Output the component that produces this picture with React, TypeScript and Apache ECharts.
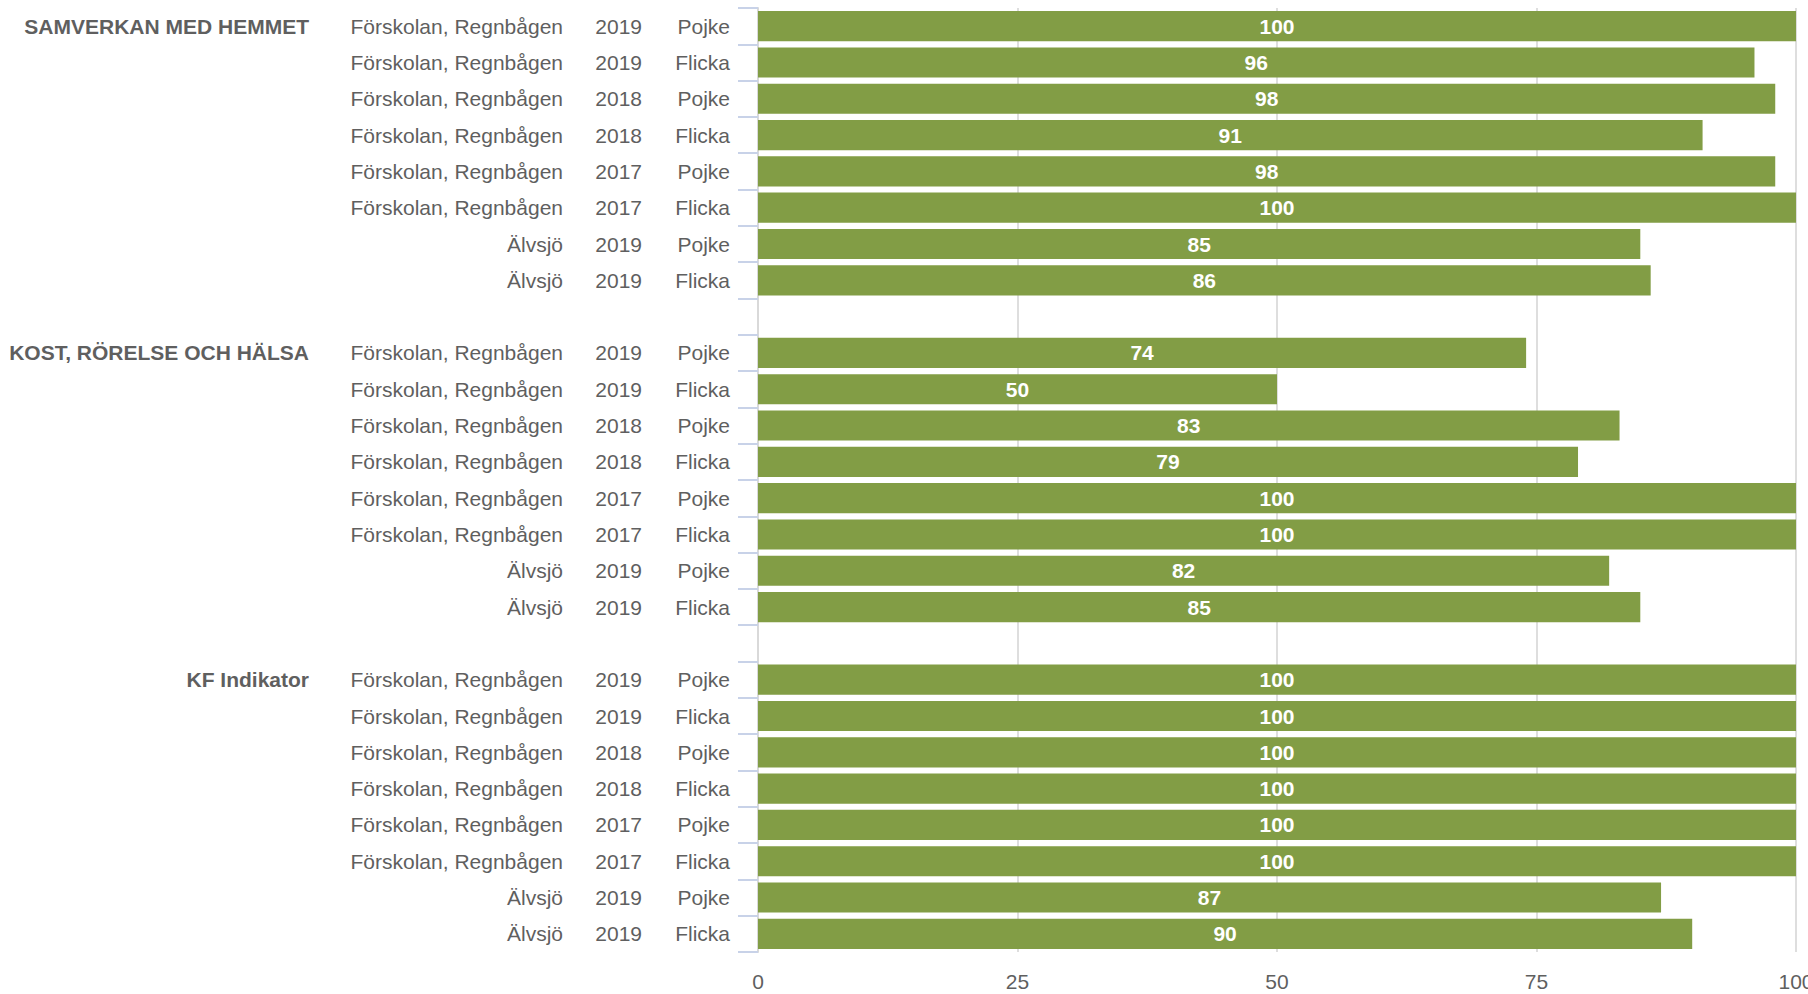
import React, { useEffect, useRef } from "react";
import * as echarts from "echarts";

const groups = ["SAMVERKAN MED HEMMET", "KOST, RÖRELSE OCH HÄLSA", "KF Indikator"];
const units = [
  "Förskolan, Regnbågen",
  "Förskolan, Regnbågen",
  "Förskolan, Regnbågen",
  "Förskolan, Regnbågen",
  "Förskolan, Regnbågen",
  "Förskolan, Regnbågen",
  "Älvsjö",
  "Älvsjö",
];
const years = ["2019", "2019", "2018", "2018", "2017", "2017", "2019", "2019"];
const genders = ["Pojke", "Flicka", "Pojke", "Flicka", "Pojke", "Flicka", "Pojke", "Flicka"];
const samverkanValues = [100, 96, 98, 91, 98, 100, 85, 86];
const kostValues = [74, 50, 83, 79, 100, 100, 82, 85];
const kfValues = [100, 100, 100, 100, 100, 100, 87, 90];
const xTicks = [0, 25, 50, 75, 100];

const groupValues = [samverkanValues, kostValues, kfValues];

type Row = { group: string; unit: string; year: string; gender: string; value: number | null };
const rows: Row[] = [];
groups.forEach((g, gi) => {
  if (gi > 0) rows.push({ group: "", unit: "", year: "", gender: "", value: null });
  units.forEach((u, i) => {
    rows.push({
      group: i === 0 ? g : "",
      unit: u,
      year: years[i],
      gender: genders[i],
      value: groupValues[gi][i],
    });
  });
});
const rowKeys = rows.map((_, i) => "r" + i);

const FONT = "Liberation Sans";
const TEXT = "#5f5f5f";

function labelAxis(field: keyof Row, margin: number, bold = false, main = false) {
  return {
    type: "category",
    position: "left",
    inverse: true,
    data: rowKeys,
    axisLine: main ? { show: true, lineStyle: { color: "#d9d9d9", width: 2 } } : { show: false },
    axisTick: main
      ? { show: true, length: 20, lineStyle: { color: "#c8d2e8", width: 2 } }
      : { show: false },
    splitLine: { show: false },
    axisLabel: {
      show: true,
      interval: 0,
      margin,
      fontSize: 21,
      fontFamily: FONT,
      fontWeight: bold ? "bold" : "normal",
      color: TEXT,
      formatter: (_v: string, idx: number) => String(rows[idx][field] ?? ""),
    },
  };
}

export default function App() {
  const ref = useRef<HTMLDivElement>(null);
  useEffect(() => {
    if (!ref.current) return;
    const chart = echarts.init(ref.current, null, { renderer: "svg" });
    chart.setOption({
      animation: false,
      backgroundColor: "#ffffff",
      grid: { left: 758, right: 12, top: 8, bottom: 42, containLabel: false, outerBoundsMode: "none" },
      xAxis: {
        type: "value",
        min: xTicks[0],
        max: xTicks[xTicks.length - 1],
        interval: 25,
        axisLine: { show: false },
        axisTick: { show: false },
        splitLine: { show: true, lineStyle: { color: "#dedede", width: 2 } },
        axisLabel: { fontSize: 21, fontFamily: FONT, color: TEXT, margin: 19 },
      },
      yAxis: [
        labelAxis("gender", 28, false, true),
        labelAxis("year", 116),
        labelAxis("unit", 195),
        labelAxis("group", 449, true),
      ],
      series: [
        {
          type: "bar",
          yAxisIndex: 0,
          data: rows.map((r) => r.value),
          barCategoryGap: "17%",
          itemStyle: { color: "#829d45" },
          label: {
            show: true,
            position: "inside",
            color: "#ffffff",
            fontWeight: "bold",
            fontSize: 21,
            fontFamily: FONT,
            formatter: "{c}",
          },
        },
      ],
    });
    return () => chart.dispose();
  }, []);
  return (
    <div
      ref={ref}
      style={{ position: "fixed", left: 0, top: 0, width: 1808, height: 994 }}
    />
  );
}
